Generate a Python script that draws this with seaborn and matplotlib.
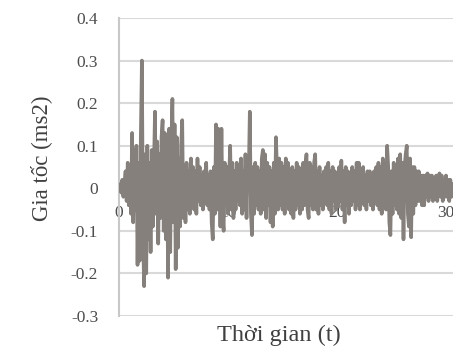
import numpy as np
import pandas as pd
import matplotlib
matplotlib.use("Agg")
import matplotlib.pyplot as plt
import seaborn as sns

# acceleration samples, one every 0.1 s
accel = [
    0.00, 0.01, -0.01, 0.02, -0.02, 0.01, 0.04, -0.03, 0.06, -0.04,
    0.05, -0.06, 0.13, -0.08, 0.09, -0.05, 0.10, -0.18, 0.06, -0.17,
    0.12, 0.30, -0.10, -0.23, 0.08, -0.20, 0.10, -0.12, 0.06, -0.15,
    0.09, -0.09, 0.04, 0.18, -0.06, 0.11, -0.13, 0.08, -0.07, 0.12,
    0.16, -0.10, 0.13, -0.12, 0.09, -0.21, 0.14, -0.15, 0.10, 0.21,
    -0.08, 0.15, -0.19, 0.12, -0.14, 0.07, -0.09, 0.10, 0.16, -0.07,
    0.05, -0.08, 0.06, -0.05, 0.04, -0.06, 0.07, -0.04, 0.05, -0.05,
    0.04, -0.06, 0.07, -0.03, 0.05, -0.04, 0.03, -0.05, 0.04, -0.03,
    0.06, -0.04, 0.03, -0.05, 0.04, -0.08, -0.12, 0.05, -0.06, 0.15,
    -0.05, 0.14, 0.10, -0.09, 0.14, -0.06, -0.10, 0.06, -0.04, 0.05,
    -0.06, 0.03, 0.10, -0.05, 0.06, -0.07, 0.04, -0.05, 0.06, -0.03,
    0.05, -0.04, 0.07, -0.06, 0.04, -0.05, 0.08, -0.07, 0.06, 0.03,
    0.18, -0.06, -0.11, 0.05, -0.06, 0.06, -0.04, 0.05, -0.05, 0.04,
    -0.06, 0.07, 0.09, -0.05, 0.08, -0.07, 0.06, -0.04, 0.05, -0.08,
    0.04, -0.09, 0.06, -0.06, 0.12, 0.04, -0.05, 0.07, -0.04, 0.06,
    -0.05, 0.05, -0.06, 0.07, -0.04, 0.06, -0.05, 0.04, -0.06, 0.05,
    -0.07, 0.04, -0.05, 0.06, -0.04, 0.05, -0.06, 0.04, -0.05, 0.06,
    -0.04, 0.05, 0.08, -0.05, -0.07, 0.06, -0.04, 0.05, -0.05, 0.06,
    0.08, -0.05, 0.04, -0.06, 0.05, -0.04, 0.03, -0.05, 0.04, -0.03,
    0.05, -0.04, 0.06, -0.05, 0.04, -0.06, 0.05, -0.03, 0.04, -0.05,
    0.03, -0.04, 0.05, -0.03, 0.065, -0.05, 0.04, -0.08, 0.05, -0.04,
    0.04, -0.06, 0.03, -0.04, 0.05, -0.03, 0.04, -0.05, 0.06, -0.04,
    0.06, -0.05, 0.04, -0.03, 0.05, -0.04, 0.03, -0.05, 0.04, -0.03,
    0.04, -0.04, 0.03, -0.05, 0.04, -0.03, 0.05, -0.04, 0.06, -0.05,
    0.05, -0.06, 0.07, -0.04, 0.06, -0.05, 0.10, 0.05, -0.08, -0.11,
    0.04, -0.06, 0.06, -0.04, 0.05, -0.05, 0.07, -0.06, 0.08, -0.07,
    0.06, -0.12, 0.05, 0.08, 0.10, -0.06, -0.09, 0.07, -0.115, 0.05,
    -0.06, 0.05, -0.04, 0.04, -0.03, 0.04, -0.03, 0.03, -0.04, 0.03,
    -0.04, 0.03, -0.02, 0.035, -0.03, 0.03, -0.02, 0.03, -0.03, 0.02,
    -0.02, 0.03, -0.03, 0.02, 0.035, -0.02, 0.03, -0.03, 0.02, -0.02,
    0.03, -0.02, 0.02, -0.03, 0.02, -0.02, 0.01,
]
dt = 0.1
x_ticks = [0, 10, 20, 30]
x_tick_labels = ["0", "10", "20", "30"]
y_ticks = [0.4, 0.3, 0.2, 0.1, 0.0, -0.1, -0.2, -0.3]
y_tick_labels = ["0.4", "0.3", "0.2", "0.1", "0", "-0.1", "-0.2", "-0.3"]
x_label = "Thời gian (t)"
y_label = "Gia tốc (ms2)"

df = pd.DataFrame({"t": np.arange(len(accel)) * dt, "a": accel})

sns.set_style("white")
plt.rcParams["font.family"] = ["Liberation Serif", "DejaVu Serif"]

fig = plt.figure(figsize=(4.53, 3.59), dpi=100)
ax = fig.add_axes([119 / 453, 1 - 316 / 359, 1 - 119 / 453, (316 - 18) / 359])

sns.lineplot(data=df, x="t", y="a", ax=ax, color="#85807b", linewidth=2.6, zorder=3)

ax.set_xlim(0, 334 / 10.9)
ax.set_ylim(-0.3, 0.4)
ax.set_yticks(y_ticks)
ax.set_yticklabels(y_tick_labels)
ax.set_xticks(x_ticks)
ax.set_xticklabels(x_tick_labels)

ax.yaxis.grid(True, color="#d9d9d9", linewidth=1.5)
ax.xaxis.grid(False)
ax.set_axisbelow(True)

for s in ["top", "right"]:
    ax.spines[s].set_visible(False)
ax.spines["left"].set_color("#c8c8c8")
ax.spines["left"].set_linewidth(1.5)
ax.spines["bottom"].set_position(("data", 0))
ax.spines["bottom"].set_visible(False)

ax.tick_params(axis="y", length=0, pad=15, labelsize=12.5, labelcolor="#4d4d4d")
ax.tick_params(axis="x", length=0, pad=12, labelsize=12.5, labelcolor="#4d4d4d")

ax.set_xlabel(x_label, fontsize=17.5, color="#404040")
ax.set_ylabel(y_label, fontsize=16.5, color="#404040")
ax.xaxis.set_label_coords(0.48, -0.03)
ax.yaxis.set_label_coords(-0.2, 0.53)

fig.savefig("out.png", dpi=100)
